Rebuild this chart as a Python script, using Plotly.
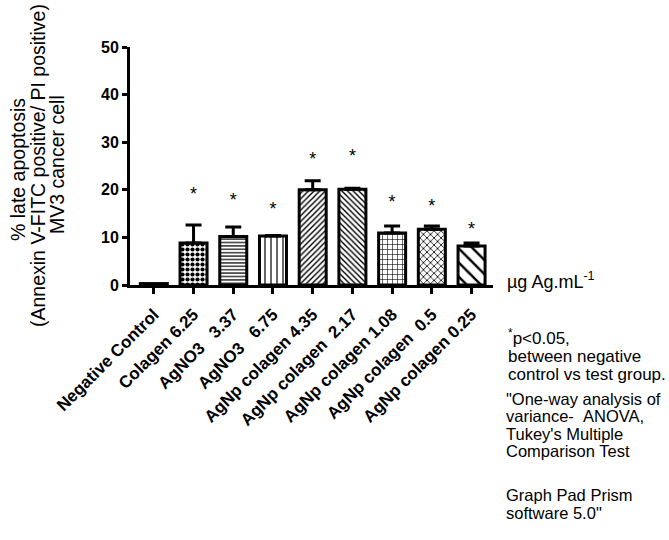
import plotly.graph_objects as go

# Treatment groups (tick labels) and measured late-apoptosis percentages
groups = [
    "Negative Control",
    "Colagen 6.25",
    "AgNO3\u00a0\u00a0\u00a03.37",
    "AgNO3\u00a0\u00a0\u00a06.75",
    "AgNp colagen 4.35",
    "AgNp colagen\u00a0\u00a02.17",
    "AgNp colagen 1.08",
    "AgNp colagen\u00a0\u00a00.5",
    "AgNp colagen 0.25",
]
late_apoptosis = [0.3, 8.8, 10.2, 10.3, 20.0, 20.1, 10.9, 11.7, 8.2]
sem = [0.0, 3.8, 2.0, 0.1, 1.9, 0.2, 1.5, 0.7, 0.6]

# Significance markers (height of each asterisk on the y scale; None = no marker)
star_y = [None, 18.7, 17.5, 15.6, 26.1, 26.8, 17.1, 16.2, 11.4]

# Fill pattern for each bar
patterns = [
    dict(shape="", size=6, solidity=0.3),
    dict(shape=".", size=5, solidity=0.55),
    dict(shape="-", size=3.4, solidity=0.35),
    dict(shape="|", size=6, solidity=0.2),
    dict(shape="/", size=4, solidity=0.35),
    dict(shape="\\", size=4, solidity=0.35),
    dict(shape="+", size=5, solidity=0.22),
    dict(shape="x", size=5, solidity=0.3),
    dict(shape="\\", size=10, solidity=0.25),
]

FONT = "Arial, Liberation Sans, sans-serif"
W, H = 669, 540
ML, MR, MT, MB = 130, 176, 47, 255
PW, PH = W - ML - MR, H - MT - MB

fig = go.Figure()

xs = list(range(len(groups)))
for i, (g, v, e, p) in enumerate(zip(groups, late_apoptosis, sem, patterns)):
    fig.add_trace(go.Bar(
        x=[i], y=[v],
        width=0.68,
        marker=dict(
            color="white",
            line=dict(color="black", width=3),
            pattern=dict(shape=p["shape"], size=p["size"], solidity=p["solidity"],
                         fgcolor="black", bgcolor="white", fillmode="replace"),
        ),
        error_y=dict(type="data", array=[e], arrayminus=[0], symmetric=False,
                     visible=e > 0, color="black", thickness=3, width=8),
        showlegend=False,
        hoverinfo="skip",
    ))

sx = [i for i, s in zip(xs, star_y) if s is not None]
sy = [s for s in star_y if s is not None]
fig.add_trace(go.Scatter(
    x=sx, y=sy, mode="text", text=["*"] * len(sx),
    textposition="middle center",
    textfont=dict(family=FONT, size=18, color="black"),
    showlegend=False, hoverinfo="skip",
))

fig.update_layout(
    width=W, height=H,
    margin=dict(l=ML, r=MR, t=MT, b=MB, pad=0),
    paper_bgcolor="white", plot_bgcolor="white",
    font=dict(family=FONT, color="black"),
    xaxis=dict(
        range=[-0.6, 8.54],
        tickmode="array", tickvals=xs, ticktext=[f"<b>{g}</b>" for g in groups],
        tickangle=-45,
        tickfont=dict(size=17, family=FONT, color="black"),
        ticklabelstandoff=4,
        showline=True, linecolor="black", linewidth=3,
        ticks="outside", ticklen=6, tickwidth=2.5, tickcolor="black",
        showgrid=False, zeroline=False, automargin=False,
    ),
    yaxis=dict(
        range=[0, 50],
        tickmode="array", tickvals=[0, 10, 20, 30, 40, 50],
        ticktext=[f"<b>{t}</b>" for t in [0, 10, 20, 30, 40, 50]],
        tickfont=dict(size=16, family=FONT, color="black"),
        showline=True, linecolor="black", linewidth=3,
        ticks="outside", ticklen=5, tickwidth=2.5, tickcolor="black",
        showgrid=False, zeroline=False, automargin=False,
    ),
)


def px_x(p):
    return (p - ML) / PW


def px_y(p):
    return 1 - (p - MT) / PH


# Rotated y-axis title, one annotation per line
title_lines = [
    ("% late apoptosis", 18, 170),
    ("(Annexin V-FITC positive/ PI positive)", 38, 166),
    ("MV3 cancer cell", 57, 165),
]
for txt, x, y in title_lines:
    fig.add_annotation(
        text=txt, xref="paper", yref="paper", x=px_x(x), y=px_y(y),
        xanchor="center", yanchor="middle", textangle=-90, showarrow=False,
        font=dict(family=FONT, size=19.5, color="black"),
    )

# Unit label and notes on the right
notes = [
    ("\u00b5g Ag.mL<sup>-1</sup>", 505, 280, 18),
    ("<sup>*</sup>p&lt;0.05,", 506, 337, 17),
    ("between negative", 506, 356.5, 17),
    ("control vs test group.", 506, 374.5, 17),
    ("\"One-way analysis of", 504, 398.5, 16.5),
    ("variance-\u00a0\u00a0ANOVA,", 504, 416, 16.5),
    ("Tukey's Multiple", 504, 433.5, 16.5),
    ("Comparison Test", 504, 451, 16.5),
    ("Graph Pad Prism", 504, 495, 16.5),
    ("software 5.0\"", 504, 512.5, 16.5),
]
for txt, x, y, fs in notes:
    fig.add_annotation(
        text=txt, xref="paper", yref="paper", x=px_x(x), y=px_y(y),
        xanchor="left", yanchor="middle", showarrow=False,
        font=dict(family=FONT, size=fs, color="black"),
    )

fig.write_html("out.html")
